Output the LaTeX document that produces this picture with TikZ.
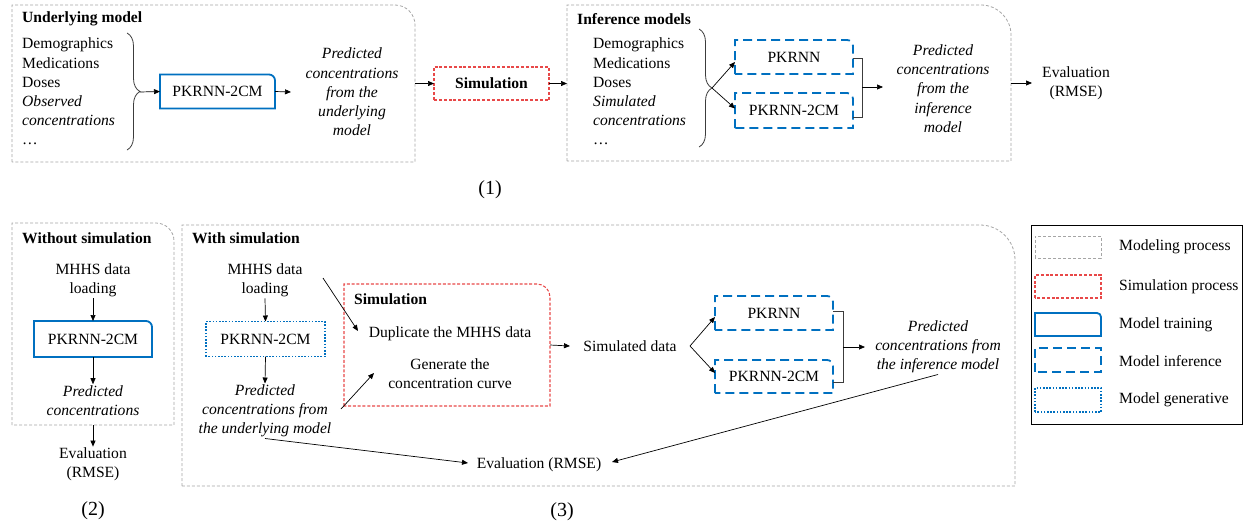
\documentclass[tikz,border=0pt]{standalone}
\usepackage{fontspec}
\setmainfont{Liberation Serif}
\usetikzlibrary{arrows.meta,decorations.pathreplacing,calc}
\definecolor{mblue}{RGB}{0,112,192}
\definecolor{sred}{RGB}{232,72,72}
\definecolor{pgray}{RGB}{165,165,165}
\definecolor{brgray}{RGB}{60,60,60}
\newcommand\fs{\fontsize{15.6}{19.2}\selectfont}
\newcommand\rtbox[3]{\draw[#3] (#1.south west) -- (#1.north west) -- ([xshift=-#2pt]#1.north east) .. controls ([xshift=-0.448*#2pt]#1.north east) and ([yshift=-0.448*#2pt]#1.north east) .. ([yshift=-#2pt]#1.north east) -- (#1.south east) -- cycle;}
\begin{document}
\begin{tikzpicture}[x=1pt,y=-1pt,
  every node/.style={font=\fs, inner sep=1pt},
  frame/.style={inner sep=0pt, outer sep=0pt, draw=none},
  panel/.style={draw=pgray, line width=0.8pt, dash pattern=on 3pt off 2pt},
  simline/.style={draw=sred, line width=1.05pt, dash pattern=on 3pt off 1.8pt},
  train/.style={draw=mblue, line width=1.8pt},
  infer/.style={draw=mblue, line width=1.8pt, dash pattern=on 9pt off 5pt},
  gener/.style={draw=mblue, line width=1.8pt, dash pattern=on 1.6pt off 1.6pt},
  arr/.style={-{Triangle[length=6pt,width=5pt]}, line width=0.7pt},
  brc/.style={draw=brgray, line width=0.8pt, decorate, decoration={brace, amplitude=13pt}},
  brk/.style={draw=brgray, line width=0.8pt},
  ttl/.style={font=\fs\bfseries, anchor=west},
  lst/.style={anchor=west, align=left},
  ctr/.style={align=center},
  itx/.style={align=center, font=\fs\itshape},
  num/.style={font=\fontsize{20}{24}\selectfont}
]
\useasboundingbox (0,0) rectangle (1246,525);

% ---------- (1) top ----------
\node[frame, minimum width=403pt, minimum height=157pt] (p1) at (213.5,83.5) {};
\rtbox{p1}{20}{panel}
\node[ttl] (t1) at (21,19) {Underlying model};
\node[lst] (l1) at (21,91.5) {Demographics\\Medications\\Doses\\\textit{Observed}\\\textit{concentrations}\\…};
\draw[brc] (127,33) -- (127,150);
\coordinate (b1tip) at (140,92);
\node[frame, minimum width=115pt, minimum height=34pt] (m1) at (217.5,91.5) {PKRNN-2CM};
\rtbox{m1}{6}{train}
\draw[arr] (b1tip) -- (m1.west);
\node[itx] (pred1) at (352,92) {Predicted\\concentrations\\from the\\underlying\\model};
\coordinate (c1) at (291,92);
\draw[arr] (m1.east) -- (c1);

\node[frame, minimum width=115pt, minimum height=33pt, font=\fs\bfseries] (sim1) at (491.5,83.5) {Simulation};
\draw[simline] (sim1.south west) rectangle (sim1.north east);

\node[frame, minimum width=444pt, minimum height=156pt] (p2) at (789,83) {};
\rtbox{p2}{30}{panel}
\draw[arr] (p1.east |- sim1.west) -- (sim1.west);
\draw[arr] (sim1.east) -- (p2.west |- sim1.east);
\node[ttl] (t2) at (576,19) {Inference models};
\node[lst] (l2) at (592,91.5) {Demographics\\Medications\\Doses\\\textit{Simulated}\\\textit{concentrations}\\…};
\draw[brc] (699,29) -- (699,147);
\coordinate (b2tip) at (712,88);
\node[frame, minimum width=118pt, minimum height=34pt] (pk1) at (794,57) {PKRNN};
\rtbox{pk1}{6}{infer}
\node[frame, minimum width=118pt, minimum height=35pt] (pk2) at (794,110.5) {PKRNN-2CM};
\rtbox{pk2}{6}{infer}
\draw[arr] (b2tip) -- ([yshift=-5pt]pk1.west);
\draw[arr] (b2tip) -- ([yshift=2pt]pk2.west);
\draw[brk] ([yshift=-1pt]pk1.east) -- ++(9,0) |- ([yshift=-6.5pt]pk2.east);
\coordinate (k2) at (862,87);
\coordinate (c2) at (883,87);
\draw[arr] (k2) -- (c2);
\node[itx] (pred2) at (943,88.5) {Predicted\\concentrations\\from the\\inference\\model};
\node[ctr] (ev1) at (1076,83.5) {Evaluation\\(RMSE)};
\coordinate (c3) at (1032,83);
\draw[arr] (p2.east) -- (c3);
\node[num] (n1) at (490,190) {(1)};

% ---------- (2) ----------
\node[frame, minimum width=162pt, minimum height=202pt] (q1) at (93,324) {};
\rtbox{q1}{18}{panel}
\node[ttl] (t3) at (21,238) {Without simulation};
\node[ctr] (d1) at (93,280.5) {MHHS data\\loading};
\node[frame, minimum width=118pt, minimum height=36pt] (m2) at (93,339) {PKRNN-2CM};
\rtbox{m2}{6}{train}
\node[itx] (pr3) at (93,400.5) {Predicted\\concentrations};
\node[ctr] (ev2) at (93,464.5) {Evaluation\\(RMSE)};
\draw[arr] (d1.south) -- (m2.north);
\draw[arr] (m2.south) -- (pr3.north);
\draw[arr] (q1.south) -- (ev2.north);
\node[num] (n2) at (93,511) {(2)};

% ---------- (3) ----------
\node[frame, minimum width=833pt, minimum height=261pt] (q2) at (598.5,355.5) {};
\rtbox{q2}{35}{panel}
\node[ttl] (t4) at (191,238) {With simulation};
\node[ctr] (d2) at (265,280.5) {MHHS data\\loading};
\node[frame, minimum width=119pt, minimum height=35pt] (m3) at (265.5,339) {PKRNN-2CM};
\draw[gener] (m3.south west) rectangle (m3.north east);
\node[itx] (pr4) at (265,411) {Predicted\\concentrations from\\the underlying model};
\draw[arr] (d2.south) -- (m3.north);
\draw[arr] (m3.south) -- (pr4.north);

\node[frame, minimum width=206pt, minimum height=122pt] (sbox) at (447,345) {};
\rtbox{sbox}{13}{simline}
\node[ttl] (t5) at (353,299) {Simulation};
\node (dup) at (450,334) {Duplicate the MHHS data};
\node[ctr] (gen) at (450,373.5) {Generate the\\concentration curve};
\coordinate (a1s) at (323,278);
\coordinate (a1e) at (358,331);
\draw[arr] (a1s) -- (a1e);
\coordinate (a2s) at (341,409);
\coordinate (a2e) at (374,373);
\draw[arr] (a2s) -- (a2e);

\node (simd) at (630,346) {Simulated data};
\coordinate (c4) at (570,346);
\draw[arr] (sbox.east) -- (c4);
\coordinate (br) at (690,346);
\node[frame, minimum width=118pt, minimum height=34pt] (pk3) at (774,313) {PKRNN};
\rtbox{pk3}{6}{infer}
\node[frame, minimum width=118pt, minimum height=33pt] (pk4) at (774,376.5) {PKRNN-2CM};
\rtbox{pk4}{6}{infer}
\draw[arr] (br) -- ([yshift=-4pt]pk3.west);
\draw[arr] (br) -- ([yshift=3.5pt]pk4.west);
\draw[brk] ([yshift=2pt]pk3.east) -- ++(10,0) |- ([yshift=-5.5pt]pk4.east);
\coordinate (k3) at (843,347);
\coordinate (c5) at (865,347);
\draw[arr] (k3) -- (c5);
\node[itx] (pr5) at (938,347) {Predicted\\concentrations from\\the inference model};
\node (ev3) at (539,465) {Evaluation (RMSE)};
\coordinate (c6) at (612,462);
\coordinate (c7) at (468,463);
\draw[arr] (pr5.south) -- (c6);
\draw[arr] (pr4.south) -- (c7);
\node[num] (n3) at (562,512) {(3)};

% ---------- legend ----------
\node[frame, minimum width=211pt, minimum height=199pt, draw=black, line width=0.8pt] (leg) at (1136.5,324.5) {};
\node[frame, minimum width=66pt, minimum height=22pt] (lg1) at (1068,247) {};
\draw[panel] (lg1.south west) rectangle (lg1.north east);
\node[frame, minimum width=66pt, minimum height=23pt] (lg2) at (1068,286.5) {};
\draw[simline] (lg2.south west) rectangle (lg2.north east);
\node[frame, minimum width=66pt, minimum height=23pt] (lg3) at (1068,324.5) {};
\rtbox{lg3}{4}{train}
\node[frame, minimum width=66pt, minimum height=24pt] (lg4) at (1068,360) {};
\draw[infer] (lg4.south west) rectangle (lg4.north east);
\node[frame, minimum width=66pt, minimum height=24pt] (lg5) at (1068,400) {};
\draw[gener] (lg5.south west) rectangle (lg5.north east);
\node[anchor=west] (lt1) at (1118,247) {Modeling process};
\node[anchor=west] (lt2) at (1118,287) {Simulation process};
\node[anchor=west] (lt3) at (1118,325) {Model training};
\node[anchor=west] (lt4) at (1118,361) {Model inference};
\node[anchor=west] (lt5) at (1118,400) {Model generative};
\end{tikzpicture}
\end{document}
